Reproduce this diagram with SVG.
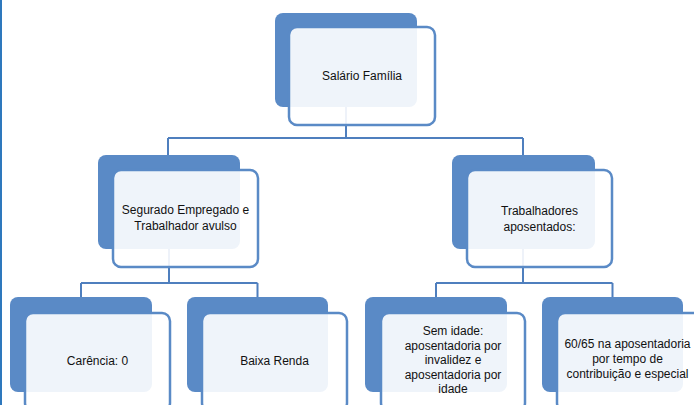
<svg xmlns="http://www.w3.org/2000/svg" width="694" height="405" viewBox="0 0 694 405">
<style>
.back{fill:#5a8ac6;}
.front{fill:#ffffff;fill-opacity:0.9;stroke:#5a8ac6;stroke-width:2.5;}
.conn{fill:none;stroke:#4f7fbe;stroke-width:2;}
text{font-family:"Liberation Sans",Arial,sans-serif;font-size:12px;fill:#111;text-anchor:middle;}
</style>
<rect x="0" y="0" width="694" height="405" fill="#ffffff"/>
<line x1="1" y1="0" x2="1" y2="405" stroke="#2e78bd" stroke-width="2"/>
<g id="connectors">
<path class="conn" d="M346,107 V138 M168,138 H523 M168,138 V155 M523,138 V155"/>
<path class="conn" d="M169,249 V283 M81,283 H257.5 M81,283 V297 M257.5,283 V297"/>
<path class="conn" d="M523,249 V283 M436,283 H612.5 M436,283 V297 M612.5,283 V297"/>
</g>
<g id="node-salario">
<rect class="back" x="275" y="13" width="142" height="94" rx="8"/>
<rect class="front" x="289" y="27" width="146" height="98" rx="8"/>
<text x="362" y="80">Salário Família</text>
</g>
<g id="node-segurado">
<rect class="back" x="98" y="155" width="142" height="94" rx="8"/>
<rect class="front" x="113" y="170" width="145" height="97" rx="8"/>
<text x="185.5" y="214">Segurado Empregado e</text>
<text x="185.5" y="230">Trabalhador avulso</text>
</g>
<g id="node-trabalhadores">
<rect class="back" x="452" y="155" width="143" height="94" rx="8"/>
<rect class="front" x="467" y="170" width="145" height="97" rx="8"/>
<text x="539.5" y="215">Trabalhadores</text>
<text x="539.5" y="231">aposentados:</text>
</g>
<g id="node-carencia">
<rect class="back" x="10" y="297" width="142" height="95" rx="8"/>
<rect class="front" x="25" y="313" width="145" height="98" rx="8"/>
<text x="97.5" y="365">Carência: 0</text>
</g>
<g id="node-baixa">
<rect class="back" x="187" y="297" width="141" height="95" rx="8"/>
<rect class="front" x="202" y="313" width="145" height="98" rx="8"/>
<text x="274.5" y="365">Baixa Renda</text>
</g>
<g id="node-semidade">
<rect class="back" x="365" y="297" width="142" height="95" rx="8"/>
<rect class="front" x="381" y="313" width="144" height="98" rx="8"/>
<text x="453" y="335">Sem idade:</text>
<text x="453" y="349.5">aposentadoria por</text>
<text x="453" y="364">invalidez e</text>
<text x="453" y="378.5">aposentadoria por</text>
<text x="453" y="393">idade</text>
</g>
<g id="node-6065">
<rect class="back" x="542" y="297" width="141" height="95" rx="8"/>
<rect class="front" x="557" y="313" width="145" height="98" rx="8"/>
<text x="627.5" y="347.5">60/65 na aposentadoria</text>
<text x="627.5" y="362.5">por tempo de</text>
<text x="627.5" y="378">contribuição e especial</text>
</g>
</svg>
